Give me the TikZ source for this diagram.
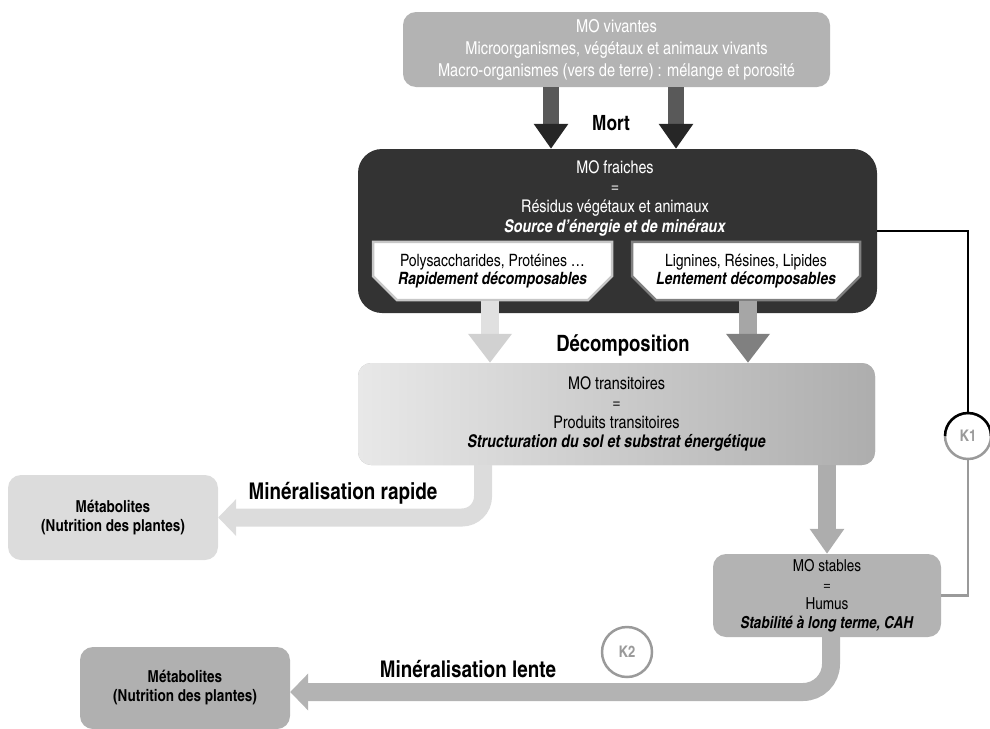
\documentclass[tikz,border=0pt]{standalone}
\usepackage{fontspec}
\setmainfont{texgyreheroscn}[Extension=.otf,UprightFont=*-regular,BoldFont=*-bold,ItalicFont=*-italic,BoldItalicFont=*-bolditalic]
\usetikzlibrary{arrows.meta,shapes.misc}

\definecolor{boxgray}{HTML}{B3B3B3}
\definecolor{darkbox}{HTML}{333333}
\definecolor{palegray}{HTML}{DCDCDC}
\definecolor{kgray}{HTML}{9A9A9A}

\begin{document}
\begin{tikzpicture}[x=1pt,y=1pt,
        gray box/.style={rounded corners=13pt,fill=boxgray,align=center,font=\fontsize{17.5}{19.5}\selectfont},
        dark box/.style={rounded corners=24pt,fill=darkbox,minimum width=519pt,minimum height=164pt},
        inner box/.style={chamfered rectangle,chamfered rectangle corners={south west,south east},
            chamfered rectangle xsep=12pt,chamfered rectangle ysep=12pt,inner sep=0pt,
            fill=white,line width=2.5pt,align=center,font=\fontsize{17}{18.5}\selectfont},
        meta box/.style={gray box,font=\fontsize{16.5}{19}\selectfont\bfseries},
        step label/.style={font=\fontsize{23}{26}\selectfont\bfseries},
        k node/.style={circle,draw=kgray,fill=white,line width=2.5pt,minimum size=46pt,
            inner sep=0pt,text=kgray,font=\fontsize{16}{18}\selectfont\bfseries},
        mort arrow/.style={draw=black!65,line width=16pt,-{Triangle[width=33pt,length=25pt,color=black!85]}},
        deco arrow/.style={line width=18pt,-{Triangle[width=42pt,length=29pt]}},
        flow arrow/.style={line width=18pt,-{Triangle[width=36pt,length=18pt]}}]

    \useasboundingbox (0,0) rectangle (990,-728);

    % boxes
    \node[gray box,text=white,minimum width=427pt,minimum height=75pt,font=\fontsize{17.8}{22}\selectfont]
        (vivantes) at (616.5,-49.5)
        {MO vivantes\\Microorganismes, végétaux et animaux vivants\\Macro-organismes (vers de terre) : mélange et porosité};
    \node[dark box] (fraiches) at (617.5,-231) {};
    \node[text=white,align=center,font=\fontsize{17.5}{19.7}\selectfont] (fraichesText) at (615,-198)
        {MO fraiches\\=\\Résidus végétaux et animaux\\\textbf{\textit{Source d’énergie et de minéraux}}};
    \node[inner box,draw=black!22,minimum width=239pt,minimum height=48pt] (rapides) at (492.5,-271)
        {Polysaccharides, Protéines \dots\\\textbf{\textit{Rapidement décomposables}}};
    \node[inner box,draw=black!50,minimum width=228pt,minimum height=48pt] (lentes) at (746,-271)
        {Lignines, Résines, Lipides\\\textbf{\textit{Lentement décomposables}}};
    \node[gray box,left color=black!9,right color=black!32,minimum width=517pt,minimum height=102pt]
        (trans) at (616.5,-414)
        {MO transitoires\\=\\Produits transitoires\\\textbf{\textit{Structuration du sol et substrat énergétique}}};
    \node[meta box,fill=palegray,minimum width=210pt,minimum height=85pt]
        (meta1) at (113,-517.5) {Métabolites\\(Nutrition des plantes)};
    \node[gray box,minimum width=228pt,minimum height=83pt,font=\fontsize{16.5}{19}\selectfont]
        (stables) at (827,-595.5)
        {MO stables\\=\\Humus\\\textbf{\textit{Stabilité à long terme, CAH}}};
    \node[meta box,fill=black!31,minimum width=210pt,minimum height=82pt]
        (meta2) at (185,-688) {Métabolites\\(Nutrition des plantes)};

    % labels
    \node[step label,font=\fontsize{21}{24}\selectfont\bfseries] (mort) at (611,-123) {Mort};
    \node[step label,font=\fontsize{22.5}{24}\selectfont\bfseries] (decomp) at (623,-345) {Décomposition};
    \node[step label] (rapide) at (343,-493) {Minéralisation rapide};
    \node[step label] (lente) at (468,-669) {Minéralisation lente};

    % arrows
    \draw[mort arrow] (vivantes.south -| 551,0) -- (fraiches.north -| 551,0);
    \draw[mort arrow] (vivantes.south -| 676,0) -- (fraiches.north -| 676,0);
    \draw[deco arrow,draw=black!12,-{Triangle[width=42pt,length=29pt,color=black!18]}]
        (rapides.south -| 490,0) -- (trans.north -| 490,0);
    \draw[deco arrow,draw=black!35,-{Triangle[width=42pt,length=29pt,color=black!50]}]
        (lentes.south -| 748,0) -- (trans.north -| 748,0);
    \draw[line width=18pt,draw=black!32,-{Triangle[width=33pt,length=25pt]}]
        (trans.south -| 827,0) -- (stables.north);
    \draw[flow arrow,draw=palegray,rounded corners=21pt] (trans.south -| 483,0) |- (meta1.east);
    \draw[flow arrow,draw=boxgray,rounded corners=28pt] (stables.south -| 831,0) |- ([yshift=-4pt]meta2.east);

    % K1 and K2
    \node[k node] (k1) at (968,-436) {K1};
    \node[k node,minimum size=50pt] (k2) at (627,-652) {K2};
    \draw[line width=2.5pt] (fraiches.east) -| (k1.north);
    \draw[line width=2.5pt] ([xshift=-23pt]k1.center) arc[start angle=180,end angle=0,radius=23pt];
    \draw[line width=2.5pt,kgray] (k1.south) |- (stables.east);
\end{tikzpicture}
\end{document}
